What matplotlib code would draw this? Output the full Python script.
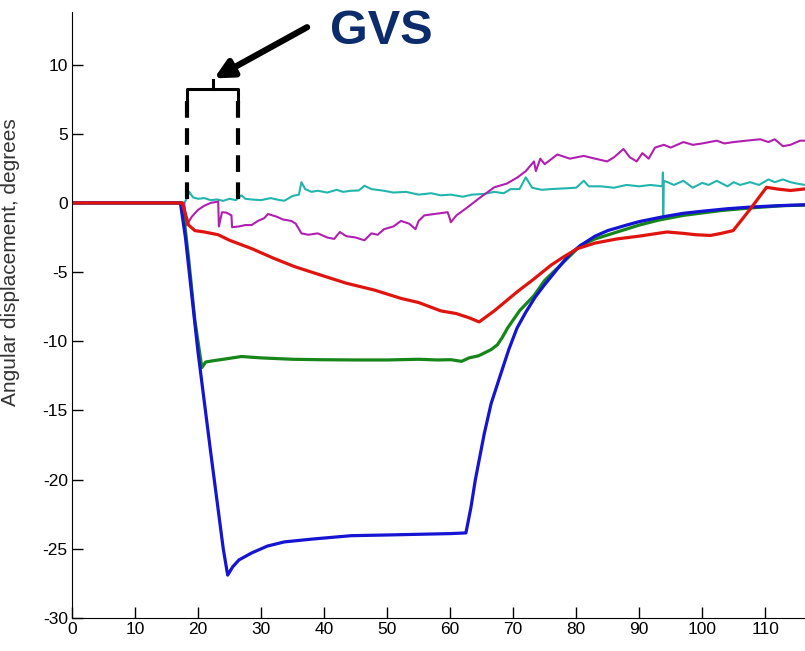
import matplotlib
matplotlib.use('Agg')
import matplotlib.pyplot as plt

# Traces: (time, angle in degrees)
blue = [(0, 0), (17.2, 0), (18.0, -2.5), (20.0, -10.8), (22.0, -18.0), (24.0, -25.0),
        (24.7, -26.9), (25.5, -26.3), (26.5, -25.8), (28.5, -25.3), (31, -24.8),
        (33.7, -24.5), (38, -24.3), (44.3, -24.05), (50, -24.0), (55, -23.95),
        (60, -23.9), (62.5, -23.85), (63.3, -22.0), (64, -20.0), (65.4, -16.7),
        (66.5, -14.5), (68, -12.4), (69.3, -10.6), (70.6, -9.05), (72, -7.9),
        (73.5, -6.8), (75, -5.9), (77.5, -4.5), (79, -3.7), (80.7, -3.07), (83, -2.4),
        (85, -2.0), (88, -1.6), (90, -1.35), (93.8, -1.0), (97, -0.75), (100, -0.6),
        (104, -0.42), (107.6, -0.3), (112, -0.2), (117, -0.12)]

green = [(0, 0), (17.5, 0), (18.5, -4.0), (19.5, -8.5), (20.6, -11.9), (21.2, -11.5),
         (22.5, -11.4), (24, -11.3), (26.9, -11.1), (30, -11.2), (35, -11.3),
         (39, -11.33), (45, -11.35), (50, -11.35), (55, -11.3), (58, -11.35),
         (60.1, -11.33), (61.8, -11.45), (63, -11.2), (64.5, -11.05), (65.4, -10.85),
         (66.5, -10.6), (67.5, -10.25), (68.3, -9.7), (69.1, -9.05), (71, -7.8),
         (73.3, -6.7), (75, -5.6), (77.5, -4.5), (80.7, -3.07), (83, -2.6),
         (86.5, -2.1), (90, -1.6), (93, -1.25), (97, -0.9), (103, -0.55), (108, -0.35),
         (112.8, -0.2), (117, -0.15)]

red = [(0, 0), (17.5, 0), (18.5, -1.6), (19.5, -2.0), (21, -2.1), (23.2, -2.3),
       (25, -2.7), (28.5, -3.3), (32, -4.0), (35.3, -4.6), (38, -5.0), (43.5, -5.8),
       (48, -6.3), (52.2, -6.9), (55, -7.2), (58.5, -7.8), (61, -8.0), (63, -8.3),
       (64.6, -8.6), (65.5, -8.3), (67, -7.8), (70.7, -6.4), (73, -5.6), (76, -4.5),
       (78, -3.9), (80.2, -3.3), (83, -2.9), (86.5, -2.6), (90, -2.4), (94.4, -2.1),
       (97, -2.2), (99, -2.3), (101.3, -2.35), (103, -2.2), (104.9, -2.0),
       (107.6, -0.45), (110.2, 1.13), (112, 1.0), (114, 0.9), (117, 1.05)]

cyan = [(0, 0), (17.8, 0), (18.2, 0.3), (18.6, 0.8), (19.2, 0.4), (20, 0.3), (21, 0.35),
        (22, 0.2), (23, 0.25), (24, 0.15), (25, 0.3), (26, 0.2), (26.9, 0.55),
        (27.5, 0.3), (28.5, 0.25), (30, 0.2), (31.5, 0.35), (33, 0.2), (33.7, 0.16),
        (35, 0.5), (36.0, 0.6), (36.4, 1.5), (37, 1.0), (38, 0.8), (39, 0.88),
        (40.5, 0.75), (42, 0.95), (43, 0.8), (44.3, 0.88), (45.5, 0.9), (46.4, 1.24),
        (47.5, 1.0), (49.5, 0.88), (51, 0.75), (53, 0.8), (55, 0.6), (57, 0.7),
        (58.5, 0.55), (60.1, 0.6), (62, 0.45), (63.5, 0.6), (65.4, 0.65), (67, 0.8),
        (68.5, 0.7), (69.6, 1.0), (71, 1.0), (72, 1.85), (73, 1.1), (74.5, 0.95),
        (76, 1.0), (78, 1.05), (80, 1.1), (81.2, 1.6), (82, 1.2), (83.9, 1.2),
        (86, 1.1), (88, 1.3), (90, 1.2), (91.8, 1.3), (93.7, 1.2), (93.75, 2.2),
        (93.8, -1.0), (93.9, 1.6), (94.5, 1.5), (95.5, 1.3), (97, 1.6), (98.5, 1.1),
        (100, 1.45), (101, 1.3), (102.3, 1.6), (104, 1.2), (105, 1.5), (106, 1.3),
        (107.6, 1.5), (109, 1.3), (110.5, 1.7), (111.5, 1.5), (112.8, 1.7),
        (114, 1.5), (115, 1.4), (117, 1.25)]

magenta = [(0, 0), (17.8, 0), (18.2, -1.6), (19, -1.0), (20, -0.5), (21, -0.2),
           (22, 0.0), (23.2, 0.1), (23.3, -1.7), (23.8, -0.67), (24.5, -0.7),
           (25.3, -0.9), (25.4, -1.75), (26.5, -1.7), (27.5, -1.6), (28.5, -1.6),
           (29.5, -1.3), (30.5, -1.1), (31.1, -0.8), (32.5, -1.0), (33.5, -1.2),
           (34.8, -1.3), (35.5, -1.5), (36.4, -2.2), (37.5, -2.3), (39, -2.2),
           (40.5, -2.5), (41.6, -2.6), (42.5, -2.1), (43.5, -2.4), (45, -2.5),
           (46.4, -2.7), (47.5, -2.2), (48.5, -2.3), (49.5, -1.9), (51, -1.7),
           (52.2, -1.3), (53.5, -1.5), (54.5, -1.9), (55.0, -1.3), (55.9, -0.9),
           (57.5, -0.8), (59.6, -0.67), (60.0, -1.2), (60.1, -1.4), (61, -0.9),
           (62.8, -0.3), (64.5, 0.3), (66, 0.8), (67, 1.13), (69, 1.4), (70.7, 1.85),
           (72, 2.3), (73.3, 3.0), (73.6, 2.3), (74.3, 3.2), (75, 2.8), (77, 3.5),
           (79, 3.2), (81.2, 3.4), (83, 3.2), (84.9, 3.0), (86, 3.3), (87.5, 3.9),
           (88.5, 3.3), (89.6, 3.0), (90.5, 3.6), (91.5, 3.2), (92.5, 4.0),
           (93.9, 4.2), (95, 4.0), (97, 4.4), (98.5, 4.2), (100, 4.3), (102.3, 4.5),
           (103.5, 4.3), (105, 4.4), (107, 4.5), (109.2, 4.6), (110.5, 4.4),
           (111.5, 4.6), (112.8, 4.1), (114, 4.2), (115.5, 4.5), (117, 4.5)]

# GVS stimulus window
gvs_on = 18.3
gvs_off = 26.4

x_ticks = list(range(0, 120, 10))
y_ticks = list(range(-30, 15, 5))

fig = plt.figure(figsize=(8.05, 6.51), dpi=100)
ax = fig.add_axes([72 / 805, 33 / 651, 1 - 72 / 805, (618 - 12) / 651])

tick_font = ['Liberation Sans', 'DejaVu Sans']

# Plot the traces (thin ones first, then the thick ones)
for pts, col, lw in [(cyan, '#22b5ad', 1.5), (magenta, '#b01fb0', 1.5),
                     (green, '#16861a', 2.3), (blue, '#1414d2', 2.3),
                     (red, '#e0140f', 2.3)]:
    t, y = zip(*pts)
    ax.plot(t, y, color=col, lw=lw)

# GVS bracket with dashed markers
ax.vlines([gvs_on, gvs_off], 0.3, 7.4, colors='black', lw=3, linestyles=(0, (4, 2.5)))
ax.plot([gvs_on, gvs_on, gvs_off, gvs_off], [7.4, 8.2, 8.2, 7.4], color='black', lw=2.2)
mid = (gvs_on + gvs_off) / 2
ax.plot([mid, mid], [8.2, 8.9], color='black', lw=2.2)
ax.annotate('', xy=(mid + 0.2, 9.0), xytext=(37.3, 12.7),
            arrowprops=dict(arrowstyle='-|>,head_length=1.1,head_width=0.55',
                            color='black', lw=4.5, shrinkA=0, shrinkB=0))
ax.text(49.0, 12.4, 'GVS', fontsize=35, fontweight='bold', color='#0b2b6b',
        ha='center', va='center', family=['Liberation Sans', 'DejaVu Sans'])

ax.set_xlim(0, 116.3)
ax.set_ylim(-30, 13.8)
ax.set_xticks(x_ticks)
ax.set_yticks(y_ticks)
ax.set_xticklabels([str(v) for v in x_ticks], family=tick_font, fontsize=12.5)
ax.set_yticklabels([str(v) for v in y_ticks], family=tick_font, fontsize=12.5)
ax.tick_params(direction='in', length=8, width=1, pad=3)

for side in ['top', 'right']:
    ax.spines[side].set_visible(False)

ax.set_ylabel('Angular displacement, degrees', fontsize=15, color='#333333',
              family=['Liberation Sans', 'DejaVu Sans'])
ax.yaxis.set_label_coords(-0.071, 0.587)

fig.savefig('out.png', dpi=100)
